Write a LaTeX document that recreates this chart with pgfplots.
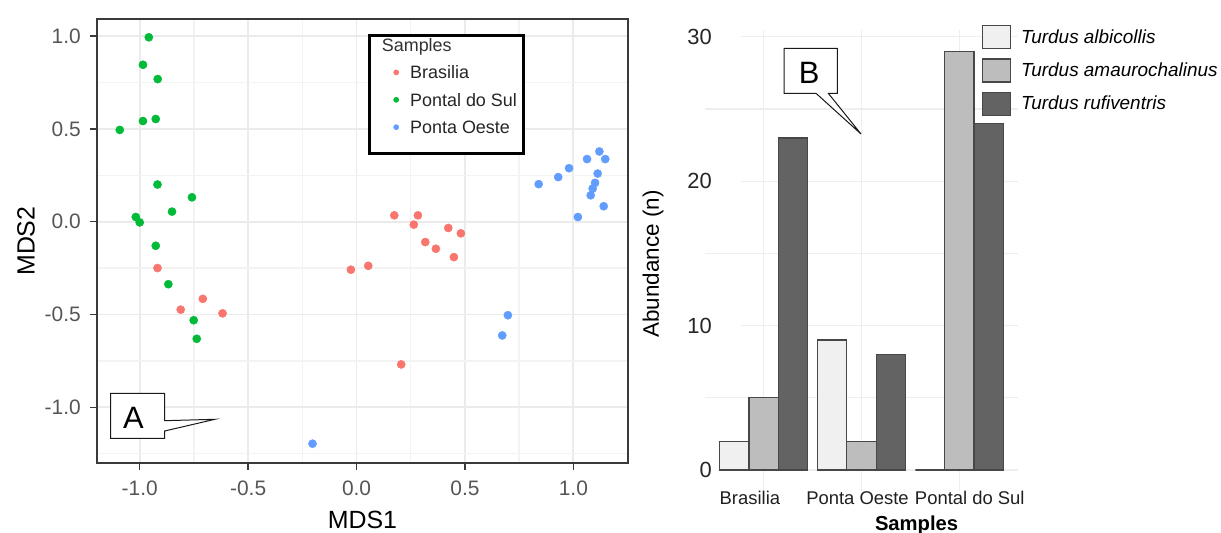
\documentclass[border=0pt]{standalone}
\usepackage{fontspec}
\setmainfont{Liberation Sans}
\usepackage{pgfplots}
\pgfplotsset{compat=1.18}

\definecolor{cbras}{HTML}{F8766D}
\definecolor{cpont}{HTML}{00BA38}
\definecolor{coest}{HTML}{619CFF}
\definecolor{gmaj}{HTML}{EBEBEB}
\definecolor{gmin}{HTML}{F3F3F3}
\definecolor{axisc}{HTML}{3A3A3A}
\definecolor{tickc}{HTML}{555555}
\definecolor{bar1}{HTML}{F0F0F0}
\definecolor{bar2}{HTML}{BDBDBD}
\definecolor{bar3}{HTML}{636363}
\definecolor{barline}{HTML}{474747}
\definecolor{gridr}{HTML}{EEEEEE}

\begin{document}
\begin{tikzpicture}[x=1bp,y=1bp]
\path[use as bounding box] (0,0) rectangle (1221,533);

% panel A: MDS scatter
\begin{axis}[
  at={(97bp,70bp)}, anchor=south west,
  scale only axis, width=531bp, height=443.7bp,
  xmin=-1.197, xmax=1.252, ymin=-1.30, ymax=1.09,
  xtick={-1,-0.5,0,0.5,1}, ytick={-1,-0.5,0,0.5,1},
  minor xtick={-0.75,-0.25,0.25,0.75},
  minor ytick={-1.25,-0.75,-0.25,0.25,0.75},
  grid=both,
  major grid style={draw=gmaj, line width=1.8bp},
  minor grid style={draw=gmin, line width=1.4bp},
  axis line style={draw=axisc, line width=1.8bp},
  tick pos=left, tick align=outside,
  major tick length=7bp, minor tick length=0bp,
  major tick style={draw=axisc, line width=1.5bp},
  /pgf/number format/fixed,
  /pgf/number format/fixed zerofill,
  /pgf/number format/precision=1,
  /pgf/number format/assume math mode=true,
  ticklabel style={font=\fontsize{21}{25}\selectfont, text=tickc, inner sep=0pt},
  yticklabel style={xshift=-9bp},
  xticklabel style={yshift=-10.5bp},
  xlabel={MDS1}, ylabel={MDS2},
  label style={font=\fontsize{25}{30}\selectfont, text=black},
  xlabel style={at={(axis description cs:0.5,-0.1285)}, anchor=center},
  ylabel style={at={(axis description cs:-0.1337,0.5)}, anchor=center},
  legend cell align=left,
  legend image code/.code={\draw[#1, mark size=2.6bp] plot coordinates {(2.6bp,1.9bp)};},
  legend style={at={(axis description cs:0.5582,0.9574)}, anchor=north west,
    draw=none, fill=none, inner sep=0pt, row sep=10.4bp, column sep=11.4bp,
    font=\fontsize{18}{20}\selectfont, text=black!85,
    nodes={inner sep=0pt, text height=13bp, text depth=4bp}},
]
\draw[fill=white, draw=black, line width=3bp]
  (axis description cs:0.5128,0.9624) rectangle (axis description cs:0.8041,0.6964);
\addlegendimage{empty legend}
\addlegendentry{\color{black!80}\hspace*{-28.3bp}Samples}
\addplot[only marks, mark=*, mark size=4.1bp, color=cbras] coordinates {
  (-0.918,-0.250) (-0.709,-0.416) (-0.811,-0.474) (-0.618,-0.494)
  (-0.026,-0.259) (0.054,-0.238) (0.174,0.034) (0.283,0.034)
  (0.264,-0.016) (0.423,-0.034) (0.481,-0.063) (0.317,-0.110)
  (0.366,-0.146) (0.449,-0.191) (0.206,-0.769)
};
\addlegendentry{Brasilia}
\addplot[only marks, mark=*, mark size=4.1bp, color=cpont] coordinates {
  (-0.958,0.993) (-0.985,0.845) (-0.917,0.768) (-0.985,0.542)
  (-0.926,0.553) (-1.092,0.494) (-0.918,0.200) (-0.759,0.131)
  (-0.851,0.054) (-1.018,0.025) (-1.000,-0.004) (-0.926,-0.130)
  (-0.868,-0.337) (-0.751,-0.531) (-0.737,-0.631)
};
\addlegendentry{Pontal do Sul}
\addplot[only marks, mark=*, mark size=4.1bp, color=coest] coordinates {
  (0.840,0.202) (0.930,0.240) (0.980,0.288) (1.063,0.337)
  (1.120,0.378) (1.147,0.337) (1.112,0.259) (1.100,0.209)
  (1.089,0.178) (1.080,0.142) (1.140,0.083) (1.021,0.025)
  (0.698,-0.504) (0.672,-0.613) (-0.203,-1.196)
};
\addlegendentry{Ponta Oeste}
\end{axis}

% panel B: abundance bars
\begin{axis}[
  at={(705bp,42bp)}, anchor=south west,
  scale only axis, width=313bp, height=460.7bp,
  ybar=0pt, bar width=0.3,
  xmin=0.4, xmax=3.6, ymin=-1.45, ymax=30.45,
  xtick={1,2,3}, xticklabels={,,},
  extra x ticks={0.859,1.959,3.107},
  extra x tick labels={Brasilia,Ponta Oeste,Pontal do Sul},
  extra x tick style={grid=none, major tick length=0pt},
  ytick={0,10,20,30}, minor ytick={5,15,25},
  xmajorgrids, ymajorgrids, yminorgrids,
  major grid style={draw=gridr, line width=1.3bp},
  minor grid style={draw=gridr, line width=1.3bp},
  axis line style={draw=none},
  major tick length=0pt, minor tick length=0pt,
  /pgf/number format/assume math mode=true,
  yticklabel style={font=\fontsize{22}{24}\selectfont, text=black!85, anchor=east,
    fill=white, inner sep=0pt, xshift=36bp},
  yticklabel={\pgfmathprintnumber{\tick}\hspace*{29bp}},
  xticklabel style={font=\fontsize{18.5}{21}\selectfont, text=black!88, inner sep=0pt, anchor=north},
  xlabel={Samples},
  xlabel style={font=\bfseries\fontsize{20.3}{24}\selectfont, at={(axis description cs:0.676,-0.0857)}, anchor=base},
  ylabel={Abundance (n)},
  ylabel style={font=\fontsize{22.5}{26}\selectfont, at={(axis description cs:-0.1661,0.4927)}, anchor=center},
  legend image code/.code={\draw[#1] (0bp,-11.5bp) rectangle (28bp,11.5bp);},
  legend cell align=left,
  legend style={at={(axis description cs:0.884,1.0115)}, anchor=north west,
    draw=none, fill=none, inner sep=0pt, row sep=8.9bp, column sep=10bp,
    font=\itshape\fontsize{19}{22}\selectfont, text=black, nodes={inner sep=0pt}},
]
\addplot[fill=bar1, draw=barline, line width=1.3bp] coordinates {(1,2) (2,9) (3,0)};
\addlegendentry{Turdus albicollis}
\addplot[fill=bar2, draw=barline, line width=1.3bp] coordinates {(1,5) (2,2) (3,29)};
\addlegendentry{Turdus amaurochalinus}
\addplot[fill=bar3, draw=barline, line width=1.3bp] coordinates {(1,23) (2,8) (3,24)};
\addlegendentry{Turdus rufiventris}
\end{axis}

% callout labels
\draw[fill=white, draw=black!90, line width=1bp, line join=miter]
  (110.7,139.7) -- (164.7,139.7) -- (164.7,112.3) -- (215,113.7) -- (164.7,102)
  -- (164.7,94.7) -- (110.7,94.7) -- cycle;
\node[font=\fontsize{31}{34}\selectfont, inner sep=0pt] at (133.3,115.2) {A};
\draw[fill=white, draw=black!90, line width=1bp, line join=miter]
  (784,484.7) -- (837.3,484.7) -- (837.3,439.7) -- (828.3,439.7) -- (861,399)
  -- (816,439.7) -- (784,439.7) -- cycle;
\node[font=\fontsize{31}{34}\selectfont, inner sep=0pt] at (809.2,459.7) {B};
\end{tikzpicture}
\end{document}
